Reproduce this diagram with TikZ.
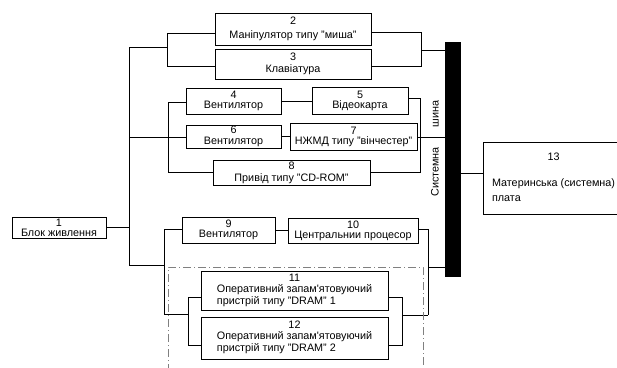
\documentclass[tikz,border=0pt]{standalone}
\usepackage{fontspec}
\setmainfont{Liberation Sans}
\begin{document}
\begin{tikzpicture}[x=1pt,y=-1pt,
  blk/.style={draw, line width=1pt, inner sep=0pt, align=center, font=\fontsize{10.8}{#1}\selectfont},
  blk/.default=10,
  wire/.style={line width=0.8pt},
  dashreg/.style={draw=gray, line width=0.8pt, dash pattern=on 8pt off 3pt on 1pt off 3pt}]
\useasboundingbox (0,0) rectangle (617,367);
\clip (0,0) rectangle (617,367);
% boxes
\node[blk, minimum width=94pt, minimum height=21pt] (b1) at (59,227.5) {1\\Блок живлення};
\node[blk=14, minimum width=156pt, minimum height=32pt] (b2) at (293,29) {2\\Маніпулятор типу "миша"};
\node[blk=12, minimum width=156pt, minimum height=30pt] (b3) at (293,64) {3\\Клавіатура};
\node[blk=9.5, minimum width=95pt, minimum height=26pt] (b4) at (233.5,101) {4\\Вентилятор};
\node[blk, minimum width=96pt, minimum height=27pt] (b5) at (360,100.5) {5\\Відеокарта};
\node[blk=11, minimum width=95pt, minimum height=23pt] (b6) at (233.5,136.5) {6\\Вентилятор};
\node[blk, minimum width=127pt, minimum height=27pt] (b7) at (353.5,136.5) {7\\НЖМД типу "вінчестер"};
\node[blk=12, minimum width=157pt, minimum height=25pt] (b8) at (291.5,172.5) {8\\Привід типу "CD-ROM"};
\node[blk, minimum width=93pt, minimum height=26pt] (b9) at (228.5,230) {9\\Вентилятор};
\node[blk, minimum width=130pt, minimum height=25pt] (b10) at (353,230.5) {10\\Центральнии процесор};
\node[blk=12, minimum width=187pt, minimum height=39pt] (b11) at (294.5,290.5)
  {\setlength\tabcolsep{0pt}\begin{tabular}{l}\multicolumn{1}{c}{11}\\[-1.5pt]Оперативний запам\textquotesingle ятовуючий\\пристрій типу "DRAM" 1\end{tabular}};
\node[blk=12, minimum width=187pt, minimum height=42pt] (b12) at (294.5,338)
  {\setlength\tabcolsep{0pt}\begin{tabular}{l}\multicolumn{1}{c}{12}\\[-1pt]Оперативний запам\textquotesingle ятовуючий\\пристрій типу "DRAM" 2\end{tabular}};
\node[blk=15, minimum width=141pt, minimum height=72pt] (b13) at (553.5,178)
  {\setlength\tabcolsep{0pt}\begin{tabular}{l}\multicolumn{1}{c}{13}\\[11pt]Материнська (системна)\\плата\end{tabular}};
\node[fill=black, inner sep=0pt, minimum width=16pt, minimum height=235pt] (bus) at (453,159.5) {};
\node[rotate=90, font=\fontsize{10.8}{10}\selectfont] (lbl) at (435,148.5) {Системна\hspace{20pt}шина};
% main line
\coordinate (mt) at (129,47);
\coordinate (mm) at (129,137);
\coordinate (mb) at (129,265);
\draw[wire] (mt) -- (mb);
\draw[line width=1.4pt] (b1.east) -- (b1.east -| mt);
% top group
\coordinate (tl) at (167,47);
\coordinate (l2) at (167,33);
\coordinate (l3) at (167,66);
\draw[wire] (mt) -- (tl);
\draw[wire] (l2 -| b2.west) -- (l2) -- (l3) -- (l3 -| b3.west);
\coordinate (r2) at (421,32);
\coordinate (r3) at (421,66);
\coordinate (rt) at (421,50);
\draw[wire] (r2 -| b2.east) -- (r2) -- (r3) -- (r3 -| b3.east);
\draw[wire] (rt) -- (rt -| bus.west);
% middle group
\coordinate (l4) at (168,102);
\coordinate (l8) at (168,172);
\draw[wire] (mm) -- (mm -| b6.west);
\draw[wire] (l4 -| b4.west) -- (l4) -- (l8) -- (l8 -| b8.west);
\draw[wire] (b4.east) -- (b4.east -| b5.west);
\draw[wire] (b6.east) -- (b7.west);
\coordinate (r5) at (420,98);
\coordinate (r8) at (420,172);
\coordinate (r7) at (420,137);
\draw[wire] (r5 -| b5.east) -- (r5) -- (r8) -- (r8 -| b8.east);
\draw[wire] (r7 -| b7.east) -- (r7 -| bus.west);
% lower group
\coordinate (lb) at (164,265);
\coordinate (l9) at (164,229);
\coordinate (lr) at (164,314);
\draw[wire] (mb) -- (lb);
\draw[wire] (l9 -| b9.west) -- (l9) -- (lr);
\draw[wire] (b9.east) -- (b9.east -| b10.west);
\coordinate (r10) at (428,229);
\coordinate (rr) at (428,315);
\coordinate (rb) at (428,267);
\draw[wire] (r10 -| b10.east) -- (r10) -- (rr);
\draw[wire] (rb) -- (rb -| bus.west);
\coordinate (m1) at (188,297);
\coordinate (m2) at (188,345);
\coordinate (mc) at (188,314);
\draw[wire] (lr) -- (mc);
\draw[wire] (m1 -| b11.west) -- (m1) -- (m2) -- (m2 -| b12.west);
\coordinate (n1) at (402,297);
\coordinate (n2) at (402,345);
\coordinate (nc) at (402,315);
\draw[wire] (n1 -| b11.east) -- (n1) -- (n2) -- (n2 -| b12.east);
\draw[wire] (nc) -- (rr);
% bus to board
\coordinate (bm) at (461,173);
\draw[wire] (bm -| bus.east) -- (bm -| b13.west);
% dashed region
\draw[dashreg] (168,372) -- (168,267) -- (423,267) -- (423,372);
\end{tikzpicture}
\end{document}
